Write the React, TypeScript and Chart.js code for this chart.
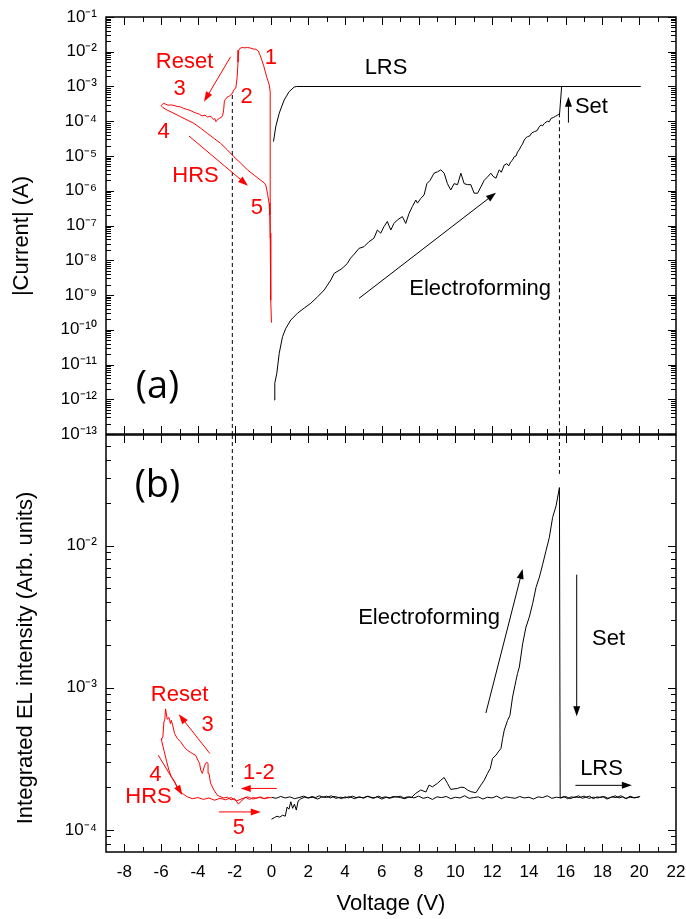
import React, { useEffect, useRef } from 'react';
import { Chart, registerables } from 'chart.js';

Chart.register(...registerables);

// ---------------- axes ----------------
const X_MIN = -9;
const X_MAX = 22;
const voltageTicks = [-8, -6, -4, -2, 0, 2, 4, 6, 8, 10, 12, 14, 16, 18, 20, 22];
const voltageTickLabels = ['-8', '-6', '-4', '-2', '0', '2', '4', '6', '8', '10', '12', '14', '16', '18', '20', '22'];
const voltageMinorTicks = [-7, -5, -3, -1, 1, 3, 5, 7, 9, 11, 13, 15, 17, 19, 21];

const CURRENT_MIN = 1e-13;
const CURRENT_MAX = 1e-1;
const currentTicks = [1e-13, 1e-12, 1e-11, 1e-10, 1e-9, 1e-8, 1e-7, 1e-6, 1e-5, 1e-4, 1e-3, 1e-2, 1e-1];
const currentTickLabels = ['10⁻¹³', '10⁻¹²', '10⁻¹¹', '10⁻¹⁰', '10⁻⁹', '10⁻⁸', '10⁻⁷', '10⁻⁶', '10⁻⁵', '10⁻⁴', '10⁻³', '10⁻²', '10⁻¹'];

const EL_MIN = 7e-5;
const EL_MAX = 6e-2;
const elTicks = [1e-4, 1e-3, 1e-2];
const elTickLabels = ['10⁻⁴', '10⁻³', '10⁻²'];
const EL_UNIT = 1e-4; // EL arrays below are given in units of 1e-4

const currentTitle = '|Current| (A)';
const elTitle = 'Integrated EL intensity (Arb. units)';
const voltageTitle = 'Voltage (V)';

// ---------------- panel (a): current ----------------
const resetSweepV = [-0.04, -0.06, -0.08, -0.12, -0.18, -0.25, -0.33, -0.42, -0.52, -0.62,
  -0.72, -0.85, -1.0, -1.15, -1.3, -1.45, -1.6, -1.72, -1.78, -1.82,
  -1.87, -1.94, -2.04, -2.12, -2.22, -2.32, -2.42, -2.5, -2.56, -2.6,
  -2.65, -2.72, -2.8, -2.88, -2.96, -3.03, -3.08, -3.15, -3.25, -3.35,
  -3.48, -3.62, -3.78, -3.92, -4.08, -4.25, -4.42, -4.6, -4.78, -4.95,
  -5.12, -5.3, -5.48, -5.62, -5.75, -5.85, -5.93, -6.0, -5.9, -5.67,
  -5.3, -4.94, -4.58, -4.22, -3.85, -3.49, -3.12, -2.76, -2.4, -2.04,
  -1.67, -1.31, -0.94, -0.58, -0.4, -0.31, -0.22, -0.13, -0.09, -0.07,
  -0.05, -0.03, 0.0];
const resetSweepI = [4.3e-8, 2e-5, 7e-4, 1.1e-3, 1.4e-3, 1.8e-3, 2.6e-3, 3.9e-3, 5.6e-3, 8.0e-3,
  1.05e-2, 1.18e-2, 1.2e-2, 1.28e-2, 1.32e-2, 1.3e-2, 1.32e-2, 1.25e-2, 1.1e-2, 5.0e-3,
  1.8e-3, 9.0e-4, 8.2e-4, 6.5e-4, 5.6e-4, 5.2e-4, 4.9e-4, 4.3e-4, 3.8e-4, 2.2e-4,
  1.5e-4, 1.3e-4, 1.25e-4, 1.18e-4, 1.05e-4, 9.8e-5, 1.2e-4, 1.12e-4, 1.3e-4, 1.4e-4,
  1.32e-4, 1.5e-4, 1.42e-4, 1.6e-4, 1.7e-4, 1.85e-4, 2.05e-4, 2.2e-4, 2.35e-4, 2.6e-4,
  2.65e-4, 2.85e-4, 2.95e-4, 2.9e-4, 3.1e-4, 3.25e-4, 3.1e-4, 2.8e-4, 2.45e-4, 2.1e-4,
  1.68e-4, 1.35e-4, 1.08e-4, 8.7e-5, 6.3e-5, 4.5e-5, 3.2e-5, 2.3e-5, 1.5e-5, 9.5e-6,
  6.2e-6, 4.0e-6, 2.8e-6, 2.0e-6, 1.7e-6, 1.45e-6, 8.5e-7, 4.4e-7, 2e-7, 6e-8,
  5e-9, 7e-10, 1.6e-10];

const lrsSweepV = [0.11, 0.23, 0.42, 0.69, 0.96, 1.23, 1.35, 20.07];
const lrsSweepI = [2.6e-5, 6.9e-5, 1.7e-4, 4.1e-4, 7.1e-4, 9.6e-4, 1.0e-3, 1.0e-3];

const formingSweepV = [0.15, 0.18, 0.29, 0.42, 0.6, 0.78, 1.05, 1.42, 1.78, 2.14,
  2.51, 2.87, 3.23, 3.41, 3.78, 3.94, 4.12, 4.3, 4.5, 4.76,
  5.03, 5.3, 5.57, 5.76, 5.94, 6.12, 6.3, 6.49, 6.66, 6.85,
  7.12, 7.3, 7.48, 7.66, 7.85, 7.94, 8.12, 8.3, 8.45, 8.63,
  8.84, 9.03, 9.21, 9.39, 9.57, 9.75, 9.93, 10.12, 10.3, 10.48,
  10.66, 10.84, 11.02, 11.21, 11.39, 11.57, 11.75,
  11.93, 12.05, 12.21, 12.3, 12.39, 12.5, 12.66, 12.8, 12.9, 13.02,
  13.1, 13.2, 13.3, 13.38, 13.47, 13.57, 13.65, 13.75, 13.85, 13.93,
  14.05, 14.15, 14.29, 14.45, 14.55, 14.66, 14.75, 14.84, 15.0, 15.1,
  15.2, 15.35, 15.45, 15.57, 15.67,
  15.78, 20.07];
const formingSweepI = [9.5e-13, 2.9e-12, 5.6e-12, 2.1e-11, 6.3e-11, 1.1e-10, 1.9e-10, 3.0e-10, 4.2e-10, 5.8e-10,
  8.9e-10, 1.4e-9, 2.7e-9, 4.2e-9, 5.5e-9, 6.5e-9, 8.0e-9, 1.15e-8, 1.5e-8, 2.2e-8,
  2.45e-8, 3.4e-8, 4.3e-8, 7.4e-8, 6.0e-8, 9.3e-8, 1.3e-7, 7.4e-8, 1.15e-7, 1.45e-7,
  1.8e-7, 1.15e-7, 2.2e-7, 3.5e-7, 5.4e-7, 4.4e-7, 6.0e-7, 7.6e-7, 1.6e-6, 2.0e-6,
  3.2e-6, 3.5e-6, 4.0e-6, 3.2e-6, 1.6e-6, 1.05e-6, 1.6e-6, 1.5e-6, 3.2e-6, 1.6e-6,
  1.5e-6, 1.5e-6, 8.5e-7, 8.5e-7, 1.3e-6, 2.0e-6, 2.5e-6,
  3.2e-6, 2.6e-6, 2.3e-6, 3.1e-6, 4.0e-6, 3.4e-6, 5.5e-6, 6.0e-6, 5.2e-6, 6.9e-6,
  7.5e-6, 9.5e-6, 1.0e-5, 1.3e-5, 1.5e-5, 1.9e-5, 2.2e-5, 2.9e-5, 3.4e-5, 3.6e-5,
  3.8e-5, 4.6e-5, 5.0e-5, 5.4e-5, 6.8e-5, 7.8e-5, 7.4e-5, 8.7e-5, 1.0e-4, 9.6e-5,
  1.2e-4, 1.3e-4, 1.4e-4, 1.5e-4, 1.7e-4,
  1.0e-3, 1.0e-3];

const resetMarkV = [-2.13, -2.13];
const resetMarkI = [5.7e-4, 1e-13];
const setMarkV = [15.66, 15.66];
const setMarkI = [1.7e-4, 1e-13];

// ---------------- panel (b): EL intensity (x 1e-4) ----------------
const resetElV = [0, -0.2, -0.4, -0.6, -0.8, -1.0, -1.2, -1.4, -1.6, -1.8,
  -2.0, -2.2, -2.4, -2.6, -2.8, -2.94, -3.13, -3.31, -3.4, -3.45,
  -3.53, -3.63, -3.76, -3.85, -3.91, -4.0, -4.13, -4.31, -4.43, -4.58,
  -4.76, -4.94, -5.12, -5.27, -5.35, -5.45, -5.49, -5.58, -5.67, -5.76,
  -5.8, -5.85, -5.91, -5.96, -6.0, -5.96, -5.85, -5.72, -5.58, -5.45,
  -5.27, -5.12, -4.85, -4.58, -4.3, -4.0, -3.7, -3.4, -3.1, -2.8,
  -2.5, -2.2, -1.9, -1.6, -1.3, -1.0, -0.7, -0.4, -0.1];
const resetEl = [1.68, 1.70, 1.66, 1.71, 1.67, 1.69, 1.64, 1.70, 1.62, 1.52,
  1.66, 1.63, 1.70, 1.68, 1.72, 1.75, 1.91, 2.13, 2.50, 2.94,
  3.00, 2.86, 2.50, 2.64, 2.94, 3.10, 3.36, 3.45, 3.54, 3.64,
  3.85, 4.17, 4.40, 4.76, 5.30, 5.90, 5.60, 6.20, 6.00, 7.10,
  6.00, 5.75, 4.50, 4.40, 4.30, 4.28, 3.64, 3.10, 2.64, 2.37,
  2.20, 1.96, 1.81, 1.71, 1.66, 1.69, 1.64, 1.68, 1.62, 1.67,
  1.63, 1.69, 1.60, 1.66, 1.71, 1.65, 1.70, 1.66, 1.69];

const formingElV = [0, 0.15, 0.3, 0.45, 0.6, 0.75, 0.85, 0.95, 1.05, 1.15, 1.25, 1.35, 1.45, 1.6,
  1.8, 2.0, 2.2, 2.4, 2.6, 2.8, 3.0, 3.2, 3.4, 3.6,
  3.8, 4.0, 4.2, 4.4, 4.6, 4.8, 5.0, 5.2, 5.4, 5.6,
  5.8, 6.0, 6.2, 6.4, 6.6, 6.8, 7.0, 7.2, 7.4, 7.6,
  7.85, 8.12, 8.4, 8.57, 8.75, 9.03, 9.21, 9.39, 9.57, 9.75,
  10.12, 10.3, 10.48, 10.66, 10.84, 11.12, 11.39, 11.57, 11.75, 11.9,
  12.02, 12.21, 12.33, 12.48, 12.57, 12.66, 12.84, 12.97, 13.11, 13.3,
  13.38, 13.48, 13.66, 13.84, 14.02, 14.2, 14.39, 14.57, 14.75, 14.93,
  15.11, 15.29, 15.48, 15.66, 15.7,
  15.9, 16.1, 16.3, 16.5, 16.7, 16.9, 17.1, 17.3, 17.5, 17.7,
  17.9, 18.1, 18.3, 18.5, 18.7, 18.9, 19.1, 19.3, 19.5, 19.7,
  19.9, 20.05];
const formingEl = [1.19, 1.22, 1.25, 1.23, 1.27, 1.25, 1.45, 1.40, 1.58, 1.42, 1.52, 1.38, 1.60, 1.66,
  1.70, 1.68, 1.72, 1.69, 1.74, 1.70, 1.73, 1.68, 1.72, 1.70,
  1.66, 1.71, 1.68, 1.73, 1.69, 1.71, 1.67, 1.72, 1.70, 1.68,
  1.73, 1.69, 1.71, 1.67, 1.72, 1.70, 1.73, 1.68, 1.71, 1.69,
  1.81, 1.91, 1.85, 2.07, 2.01, 2.13, 2.24, 2.34, 2.13, 1.93,
  1.96, 2.00, 1.99, 1.91, 1.86, 1.83, 2.07, 2.24, 2.50, 2.71,
  3.18, 3.36, 3.54, 3.74, 4.40, 5.04, 5.90, 6.40, 8.60, 11.3,
  12.6, 14.0, 20.4, 26.7, 31.4, 39.0, 51.0, 60.0, 74.0, 92.0,
  114, 158, 191, 256, 1.68,
  1.72, 1.66, 1.71, 1.69, 1.74, 1.67, 1.70, 1.73, 1.66, 1.71,
  1.69, 1.72, 1.67, 1.70, 1.74, 1.68, 1.71, 1.66, 1.73, 1.69,
  1.70, 1.72];

const lrsElV = [0, 0.25, 0.5, 0.75, 1, 1.25, 1.5, 1.75, 2, 2.25,
  2.5, 2.75, 3, 3.25, 3.5, 3.75, 4, 4.25, 4.5, 4.75,
  5, 5.25, 5.5, 5.75, 6, 6.25, 6.5, 6.75, 7, 7.25,
  7.5, 7.75, 8, 8.25, 8.5, 8.75, 9, 9.25, 9.5, 9.75,
  10, 10.25, 10.5, 10.75, 11, 11.25, 11.5, 11.75, 12, 12.25,
  12.5, 12.75, 13, 13.25, 13.5, 13.75, 14, 14.25, 14.5, 14.75,
  15, 15.25, 15.5, 15.75, 16, 16.25, 16.5, 16.75, 17, 17.25,
  17.5, 17.75, 18, 18.25, 18.5, 18.75, 19, 19.25, 19.5, 19.75,
  20];
const lrsEl = [1.70, 1.67, 1.72, 1.68, 1.71, 1.66, 1.69, 1.73, 1.68, 1.70,
  1.65, 1.71, 1.69, 1.74, 1.67, 1.70, 1.68, 1.72, 1.66, 1.70,
  1.69, 1.73, 1.67, 1.71, 1.65, 1.70, 1.68, 1.72, 1.69, 1.66,
  1.71, 1.68, 1.73, 1.67, 1.70, 1.64, 1.71, 1.69, 1.72, 1.66,
  1.70, 1.68, 1.74, 1.67, 1.69, 1.71, 1.65, 1.70, 1.68, 1.73,
  1.66, 1.71, 1.69, 1.67, 1.72, 1.68, 1.70, 1.65, 1.71, 1.69,
  1.74, 1.67, 1.70, 1.68, 1.72, 1.66, 1.71, 1.69, 1.73, 1.67,
  1.70, 1.68, 1.72, 1.65, 1.71, 1.69, 1.74, 1.67, 1.70, 1.68,
  1.71];

const resetElMarkV = [-2.13, -2.13];
const resetElMarkY = [6e-2, 2.0e-4];
const setElMarkV = [15.66, 15.66];
const setElMarkY = [6e-2, 3.2e-2];

// ---------------- annotations (data coordinates) ----------------
const RED = '#ff0000';
const BLACK = '#000000';
type Note = { text: string; x: number; y: number; color: string; big?: boolean };
type Arrow = { x1: number; y1: number; x2: number; y2: number; color: string };

const topNotes: Note[] = [
  { text: 'Reset', x: -4.73, y: 5.1e-3, color: RED },
  { text: '1', x: -0.04, y: 6.6e-3, color: RED },
  { text: '2', x: -1.35, y: 5.0e-4, color: RED },
  { text: '3', x: -5.0, y: 8.5e-4, color: RED },
  { text: '4', x: -5.87, y: 4.9e-5, color: RED },
  { text: 'HRS', x: -4.13, y: 2.6e-6, color: RED },
  { text: '5', x: -0.8, y: 3.2e-7, color: RED },
  { text: 'LRS', x: 6.23, y: 3.4e-3, color: BLACK },
  { text: 'Set', x: 17.4, y: 2.57e-4, color: BLACK },
  { text: 'Electroforming', x: 11.35, y: 1.48e-9, color: BLACK },
  { text: '(a)', x: -6.2, y: 2.2e-12, color: BLACK, big: true },
];
const topArrows: Arrow[] = [
  { x1: -2.22, y1: 7.2e-3, x2: -3.67, y2: 3.66e-4, color: RED },
  { x1: -4.49, y1: 3.77e-5, x2: -1.28, y2: 1.4e-6, color: RED },
  { x1: 16.15, y1: 9.1e-5, x2: 16.15, y2: 5.1e-4, color: BLACK },
  { x1: 4.76, y1: 8.0e-10, x2: 12.21, y2: 8.8e-7, color: BLACK },
];
const bottomNotes: Note[] = [
  { text: '(b)', x: -6.2, y: 2.64e-2, color: BLACK, big: true },
  { text: 'Reset', x: -5.0, y: 8.85e-4, color: RED },
  { text: '3', x: -3.47, y: 5.46e-4, color: RED },
  { text: '4', x: -6.31, y: 2.43e-4, color: RED },
  { text: 'HRS', x: -6.69, y: 1.71e-4, color: RED },
  { text: '1-2', x: -0.69, y: 2.51e-4, color: RED },
  { text: '5', x: -1.78, y: 1.03e-4, color: RED },
  { text: 'Electroforming', x: 8.57, y: 3.08e-3, color: BLACK },
  { text: 'Set', x: 18.33, y: 2.19e-3, color: BLACK },
  { text: 'LRS', x: 17.95, y: 2.68e-4, color: BLACK },
];
const bottomArrows: Arrow[] = [
  { x1: -3.35, y1: 3.45e-4, x2: -5.04, y2: 6.52e-4, color: RED },
  { x1: -6.16, y1: 3.36e-4, x2: -4.85, y2: 1.76e-4, color: RED },
  { x1: 0.29, y1: 1.96e-4, x2: -1.67, y2: 1.96e-4, color: RED },
  { x1: -2.86, y1: 1.34e-4, x2: -0.58, y2: 1.34e-4, color: RED },
  { x1: 11.66, y1: 6.65e-4, x2: 13.66, y2: 6.85e-3, color: BLACK },
  { x1: 16.6, y1: 6.25e-3, x2: 16.6, y2: 6.3e-4, color: BLACK },
  { x1: 16.53, y1: 2.06e-4, x2: 19.6, y2: 2.06e-4, color: BLACK },
];

// ---------------- helpers ----------------
const FONT = '"Liberation Sans", Arial, Helvetica, sans-serif';
const BIG_FONT = '"Open Sans", "Liberation Sans", sans-serif';

function pts(xs: number[], ys: number[], unit = 1) {
  return xs.map((x, i) => ({ x, y: ys[i] * unit }));
}

function lineDs(data: any[], color: string, dash?: number[]) {
  return {
    data,
    borderColor: color,
    borderWidth: 1,
    pointRadius: 0,
    fill: false,
    tension: 0,
    borderDash: dash || [],
  };
}

// frame, inward tick marks and the rotated y-axis title
function framePlugin(yMajor: number[], yMin: number, yMax: number, title: string, titleX: number, titleShift: number) {
  return {
    id: 'frameTicks',
    afterDraw(chart: any) {
      const { ctx, chartArea } = chart;
      const { left, right, top, bottom } = chartArea;
      const xs = chart.scales.x;
      const ys = chart.scales.y;
      ctx.save();
      ctx.strokeStyle = '#000';
      ctx.lineWidth = 1;
      ctx.beginPath();
      const seg = (a: number, b: number, c: number, d: number) => {
        ctx.moveTo(a, b);
        ctx.lineTo(c, d);
      };
      voltageTicks.forEach((v) => {
        if (v <= X_MIN || v >= X_MAX) return;
        const px = Math.round(xs.getPixelForValue(v)) + 0.5;
        seg(px, top, px, top + 8);
        seg(px, bottom, px, bottom - 8);
      });
      voltageMinorTicks.forEach((v) => {
        const px = Math.round(xs.getPixelForValue(v)) + 0.5;
        seg(px, top, px, top + 5);
        seg(px, bottom, px, bottom - 5);
      });
      const decades = [yMajor[0] / 10, ...yMajor];
      decades.forEach((d, k) => {
        if (k > 0 && d < yMax * 1.0001) {
          const py = Math.round(ys.getPixelForValue(d)) + 0.5;
          seg(left, py, left + 8, py);
          seg(right, py, right - 8, py);
        }
        for (let m = 2; m <= 9; m++) {
          const v = d * m;
          if (v <= yMin * 1.0001 || v >= yMax * 0.9999) continue;
          const py = Math.round(ys.getPixelForValue(v)) + 0.5;
          seg(left, py, left + 5, py);
          seg(right, py, right - 5, py);
        }
      });
      ctx.stroke();
      ctx.lineWidth = 1.5;
      ctx.strokeRect(left, top, right - left, bottom - top);

      ctx.translate(titleX, (top + bottom) / 2 + titleShift);
      ctx.rotate(-Math.PI / 2);
      ctx.fillStyle = '#000';
      ctx.font = `22px ${FONT}`;
      ctx.textAlign = 'center';
      ctx.textBaseline = 'middle';
      ctx.fillText(title, 0, 0);
      ctx.restore();
    },
  };
}

function notesPlugin(notes: Note[], arrows: Arrow[]) {
  return {
    id: 'notes',
    afterDatasetsDraw(chart: any) {
      const { ctx } = chart;
      const xs = chart.scales.x;
      const ys = chart.scales.y;
      ctx.save();
      arrows.forEach((a) => {
        const x1 = xs.getPixelForValue(a.x1);
        const y1 = ys.getPixelForValue(a.y1);
        const x2 = xs.getPixelForValue(a.x2);
        const y2 = ys.getPixelForValue(a.y2);
        const ang = Math.atan2(y2 - y1, x2 - x1);
        const L = 10;
        const W = 3.5;
        const c = Math.cos(ang);
        const s = Math.sin(ang);
        ctx.strokeStyle = a.color;
        ctx.fillStyle = a.color;
        ctx.lineWidth = 1;
        ctx.beginPath();
        ctx.moveTo(x1, y1);
        ctx.lineTo(x2 - (L - 2) * c, y2 - (L - 2) * s);
        ctx.stroke();
        ctx.beginPath();
        ctx.moveTo(x2, y2);
        ctx.lineTo(x2 - L * c - W * s, y2 - L * s + W * c);
        ctx.lineTo(x2 - L * c + W * s, y2 - L * s - W * c);
        ctx.closePath();
        ctx.fill();
      });
      ctx.textAlign = 'center';
      ctx.textBaseline = 'middle';
      notes.forEach((n) => {
        ctx.fillStyle = n.color;
        ctx.font = n.big ? `38px ${BIG_FONT}` : `22px ${FONT}`;
        ctx.fillText(n.text, xs.getPixelForValue(n.x), ys.getPixelForValue(n.y));
      });
      ctx.restore();
    },
  };
}

function yAxis(min: number, max: number, ticks: number[], labels: string[]) {
  return {
    type: 'logarithmic',
    min,
    max,
    afterBuildTicks: (s: any) => {
      s.ticks = ticks.map((value) => ({ value }));
    },
    afterFit: (s: any) => {
      s.width = 106;
      s.paddingTop = 0;
      s.paddingBottom = 0;
    },
    grid: { display: false, drawTicks: false },
    border: { display: false },
    ticks: {
      autoSkip: false,
      color: '#000',
      padding: 9,
      font: { family: FONT, size: 17 },
      callback: (_v: any, i: number) => labels[i],
    },
    title: { display: false },
  };
}

function topConfig(): any {
  return {
    type: 'line',
    data: {
      datasets: [
        lineDs(pts(resetMarkV, resetMarkI), BLACK, [4, 3]),
        lineDs(pts(setMarkV, setMarkI), BLACK, [4, 3]),
        lineDs(pts(formingSweepV, formingSweepI), BLACK),
        lineDs(pts(lrsSweepV, lrsSweepI), BLACK),
        lineDs(pts(resetSweepV, resetSweepI), RED),
      ],
    },
    options: {
      responsive: false,
      animation: false,
      events: [],
      layout: { padding: { top: 17, right: 10, bottom: 12, left: 0 } },
      plugins: { legend: { display: false }, tooltip: { enabled: false } },
      scales: {
        x: {
          type: 'linear',
          min: X_MIN,
          max: X_MAX,
          display: false,
          afterFit: (s: any) => {
            s.paddingLeft = 0;
            s.paddingRight = 0;
          },
        },
        y: yAxis(CURRENT_MIN, CURRENT_MAX, currentTicks, currentTickLabels),
      },
    },
    plugins: [
      framePlugin(currentTicks, CURRENT_MIN, CURRENT_MAX, currentTitle, 21.5, 10.5),
      notesPlugin(topNotes, topArrows),
    ],
  };
}

function bottomConfig(): any {
  return {
    type: 'line',
    data: {
      datasets: [
        lineDs(pts(resetElMarkV, resetElMarkY), BLACK, [4, 3]),
        lineDs(pts(setElMarkV, setElMarkY), BLACK, [4, 3]),
        lineDs(pts(lrsElV, lrsEl, EL_UNIT), BLACK),
        lineDs(pts(formingElV, formingEl, EL_UNIT), BLACK),
        lineDs(pts(resetElV, resetEl, EL_UNIT), RED),
      ],
    },
    options: {
      responsive: false,
      animation: false,
      events: [],
      layout: { padding: { top: 1, right: 10, bottom: 0, left: 0 } },
      plugins: { legend: { display: false }, tooltip: { enabled: false } },
      scales: {
        x: {
          type: 'linear',
          min: X_MIN,
          max: X_MAX,
          afterBuildTicks: (s: any) => {
            s.ticks = voltageTicks.map((value) => ({ value }));
          },
          afterFit: (s: any) => {
            s.height = 67;
            s.paddingLeft = 0;
            s.paddingRight = 0;
          },
          grid: { display: false, drawTicks: false },
          border: { display: false },
          ticks: {
            autoSkip: false,
            maxRotation: 0,
            color: '#000',
            padding: 10,
            font: { family: FONT, size: 17 },
            callback: (_v: any, i: number) => voltageTickLabels[i],
          },
          title: {
            display: true,
            text: voltageTitle,
            color: '#000',
            font: { family: FONT, size: 22 },
            padding: { top: 0, bottom: 2 },
          },
        },
        y: yAxis(EL_MIN, EL_MAX, elTicks, elTickLabels),
      },
    },
    plugins: [
      framePlugin(elTicks, EL_MIN, EL_MAX, elTitle, 25.5, 14.5),
      notesPlugin(bottomNotes, bottomArrows),
    ],
  };
}

export default function App() {
  const topRef = useRef<HTMLCanvasElement>(null);
  const bottomRef = useRef<HTMLCanvasElement>(null);
  useEffect(() => {
    const c1 = new Chart(topRef.current as HTMLCanvasElement, topConfig());
    const c2 = new Chart(bottomRef.current as HTMLCanvasElement, bottomConfig());
    return () => {
      c1.destroy();
      c2.destroy();
    };
  }, []);
  return (
    <div style={{ position: 'absolute', left: 0, top: 0, width: 686, height: 919, background: '#fff' }}>
      <canvas
        ref={topRef}
        width={686}
        height={446}
        style={{ position: 'absolute', left: 0, top: 0, width: 686, height: 446 }}
      />
      <canvas
        ref={bottomRef}
        width={686}
        height={485}
        style={{ position: 'absolute', left: 0, top: 434, width: 686, height: 485 }}
      />
    </div>
  );
}
